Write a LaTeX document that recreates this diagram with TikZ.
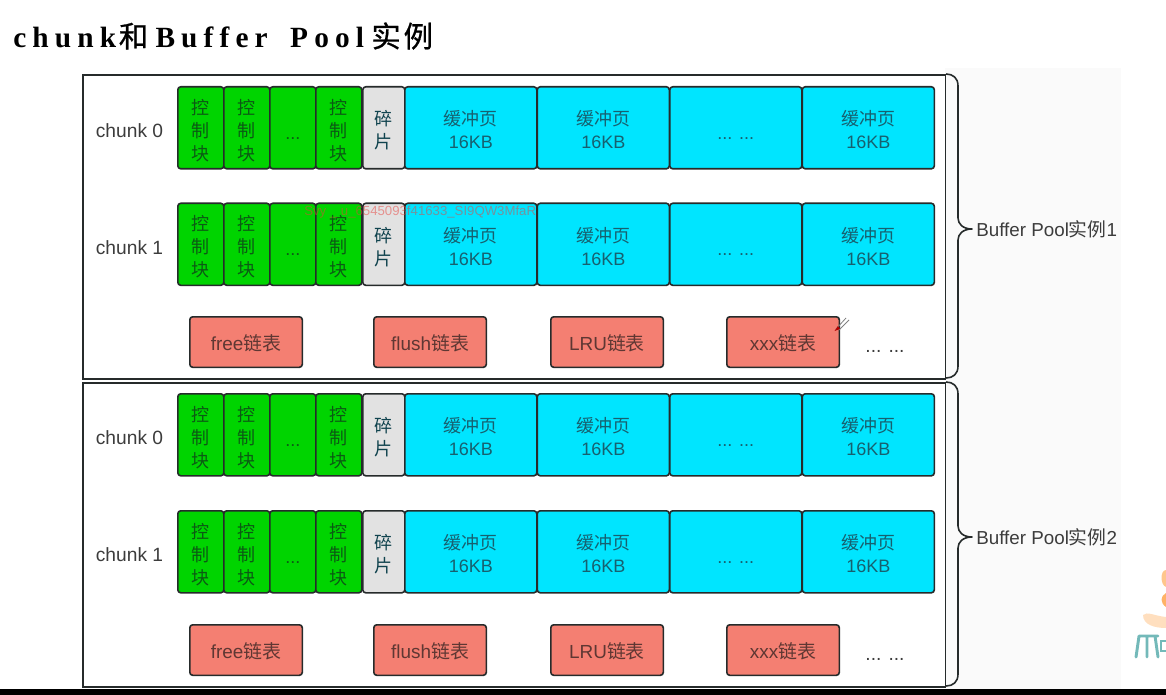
\documentclass[tikz,border=0pt]{standalone}
\usepackage{fontspec}
\setmainfont{Liberation Sans}
\newfontfamily\cjk{Noto Sans CJK SC}
\newfontfamily\titlelatin[LetterSpace=21]{Liberation Serif}
\newfontfamily\titlecjk[LetterSpace=10,FakeBold=0.7]{Noto Sans CJK SC}
\definecolor{linecol}{HTML}{262B2B}
\definecolor{greenfill}{HTML}{00D400}
\definecolor{greentext}{HTML}{0C5A14}
\definecolor{cyanfill}{HTML}{00E5FF}
\definecolor{cyantext}{HTML}{17606F}
\definecolor{greyfill}{HTML}{E2E2E2}
\definecolor{redfill}{HTML}{F47F72}
\definecolor{redtext}{HTML}{5F3733}
\definecolor{labelcol}{HTML}{3C3C3C}
\definecolor{panelcol}{HTML}{FAFAFA}
\definecolor{marktext}{HTML}{E8413C}
% a leading vertical skip of twice the wanted downward shift keeps the box centred on the node
\newcommand{\shifted}[2]{\begin{tabular}{@{}c@{}}\noalign{\vskip #1}#2\end{tabular}}
\newcommand{\stacked}[1]{\shifted{7.5pt}{#1}}
\newcommand{\dotted}[1]{\shifted{10pt}{#1}}
\newcommand{\listtext}[1]{\shifted{6.5pt}{#1}}
\tikzset{
  x=0.75pt,y=-0.75pt,
  basebox/.style={draw=linecol,line width=1.2pt,rounded corners=2.2pt,anchor=north west,inner sep=0pt,
    font=\fontsize{13.5}{17.25}\selectfont},
  ctrlbox/.style={basebox,fill=greenfill,text=greentext,minimum width=46*0.75pt,minimum height=82*0.75pt},
  scrapbox/.style={basebox,fill=greyfill,text=cyantext!70!black,minimum width=42*0.75pt,minimum height=82*0.75pt},
  pagebox/.style={basebox,fill=cyanfill,text=cyantext,minimum width=132*0.75pt,minimum height=82*0.75pt},
  listbox/.style={basebox,fill=redfill,text=redtext,minimum width=112.5*0.75pt,minimum height=50.5*0.75pt,font=\fontsize{14.2}{17.25}\selectfont},
  framebox/.style={draw=linecol,line width=1.2pt,anchor=north west,inner sep=0pt,minimum width=862.5*0.75pt,minimum height=304*0.75pt},
  plainlabel/.style={text=labelcol,inner sep=0pt,font=\fontsize{14.4}{16}\selectfont},
  sidelabel/.style={plainlabel,anchor=west,font=\fontsize{14.1}{16}\selectfont},
  bracketline/.style={draw=linecol,line width=1.2pt,line join=round},
}
\newcommand{\chunkrow}[3]{%
  \node[plainlabel] (#1lab) at (129.5,#2+45) {#3};
  \node[ctrlbox] (#1a) at (177,#2) {\stacked{\cjk 控\\\cjk 制\\\cjk 块}};
  \node[ctrlbox] (#1b) at (223,#2) {\stacked{\cjk 控\\\cjk 制\\\cjk 块}};
  \node[ctrlbox] (#1c) at (269,#2) {\dotted{...}};
  \node[ctrlbox] (#1d) at (315,#2) {\stacked{\cjk 控\\\cjk 制\\\cjk 块}};
  \node[scrapbox] (#1e) at (362,#2) {\stacked{\cjk 碎\\\cjk 片}};
  \node[pagebox] (#1f) at (404,#2) {\stacked{\cjk 缓冲页\\16KB}};
  \node[pagebox] (#1g) at (536.5,#2) {\stacked{\cjk 缓冲页\\16KB}};
  \node[pagebox] (#1h) at (669,#2) {\dotted{... ...}};
  \node[pagebox] (#1i) at (801.5,#2) {\stacked{\cjk 缓冲页\\16KB}};
}
\newcommand{\lists}[2]{%
  \node[listbox] (#1a) at (189,#2) {\listtext{free{\cjk 链表}}};
  \node[listbox] (#1b) at (373,#2) {\listtext{flush{\cjk 链表}}};
  \node[listbox] (#1c) at (550,#2) {\listtext{LRU{\cjk 链表}}};
  \node[listbox] (#1d) at (726,#2) {\listtext{xxx{\cjk 链表}}};
  \node[plainlabel] (#1e) at (885,#2+35) {... ...};
}
\newcommand{\bracketshape}[1]{%
  \draw[bracketline] (946,#1) .. controls (953,#1) and (958,#1+4) .. (958,#1+12)
    -- (958,#1+144) .. controls (958,#1+150) and (963,#1+155) .. (972,#1+155)
    .. controls (963,#1+155) and (958,#1+160) .. (958,#1+166)
    -- (958,#1+292) .. controls (958,#1+300) and (953,#1+304) .. (946,#1+304);
}
\begin{document}
\begin{tikzpicture}
\useasboundingbox (0,0) rectangle (1166,695);
% background panel and bottom bar
\fill[panelcol] (945,68) rectangle (1121,689);
\fill[black] (0,689) rectangle (1166,695);
% title
\node[anchor=west,inner sep=0pt,font=\fontsize{22}{26}\selectfont] (title) at (13,36)
  {{\bfseries\titlelatin chunk}\hspace{2pt}{\titlecjk 和}\hspace{5.5pt}{\bfseries\titlelatin Buffer\hspace{6.7pt} Pool}\hspace{5.5pt}{\titlecjk 实例}};
% instance 1
\node[framebox] (inst1) at (82,74) {};
\chunkrow{ua}{86}{chunk 0}
\chunkrow{ub}{202.5}{chunk 1}
\lists{ul}{316}
\bracketshape{74}
\node[sidelabel] (inst1lab) at (976,229) {Buffer Pool{\cjk 实例}1};
% instance 2
\node[framebox] (inst2) at (82,382) {};
\chunkrow{la}{393}{chunk 0}
\chunkrow{lb}{510}{chunk 1}
\lists{ll}{624}
\bracketshape{382}
\node[sidelabel] (inst2lab) at (976,537) {Buffer Pool{\cjk 实例}2};
% watermark
\node[anchor=west,inner sep=0pt,text=marktext,opacity=0.5,font=\fontsize{9.9}{12}\selectfont] (mark) at (304,212) {Svy \_ u\_6545093f41633\_SI9QW3MfaR};
% pen mark
\draw[gray,line width=0.6pt] (836,329) -- (846,318) (839,330) -- (849,320);
\fill[red!70!black] (834.5,331) -- (838,326) -- (840,329) -- cycle;
% logo
\fill[orange!45!white] (1166,570) .. controls (1160,570) and (1160,585) .. (1166,587) -- cycle;
\fill[orange!60!white] (1166,593) .. controls (1160,596) and (1160,603) .. (1166,607) -- cycle;
\fill[orange!25!white] (1143,615) .. controls (1147,611) and (1155,616) .. (1166,617) -- (1166,628) .. controls (1155,628) and (1143,625) .. (1143,615) -- cycle;
\draw[teal!55!white,line width=2.2pt,line cap=round] (1139,636) -- (1136,657) (1139,636) -- (1158,636) (1147,636) -- (1147,657) (1155,636) -- (1158,657);
\draw[teal!55!white,line width=2.2pt] (1166,641) -- (1161,641) -- (1161,651) -- (1166,651);
\end{tikzpicture}
\end{document}
